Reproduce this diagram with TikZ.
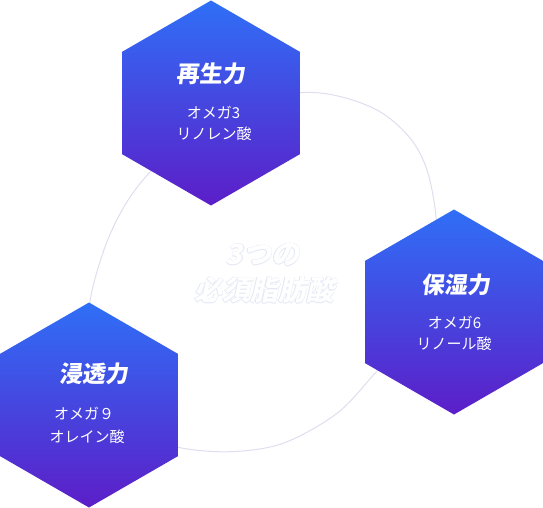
\documentclass[tikz,border=0pt]{standalone}
\usepackage{fontspec}
\usetikzlibrary{shapes.geometric}
\newfontfamily\jp{Noto Sans CJK JP}
\newfontfamily\jpsl{Noto Sans CJK JP}[FakeSlant=0.12]
\newfontfamily\jpcen{Noto Sans CJK JP}[FakeSlant=0.22]
\definecolor{hexTop}{RGB}{47,111,247}
\definecolor{hexBot}{RGB}{92,30,200}
\definecolor{ringcol}{RGB}{222,222,238}
\definecolor{outl}{RGB}{226,229,244}
\newcommand\olText[1]{\leavevmode\rlap{\color{outl}\hspace{0.6pt}#1}\rlap{\color{outl}\hspace{-0.6pt}#1}\rlap{\color{outl}\raisebox{0.6pt}{#1}}\rlap{\color{outl}\raisebox{-0.6pt}{#1}}{\color{white}#1}}
\begin{document}
\begin{tikzpicture}[x=1pt,y=-1pt,
  hexa/.style={regular polygon, regular polygon sides=6, regular polygon rotate=30,
    minimum size=205pt, inner sep=0pt, outer sep=0pt, draw=none,
    top color=hexTop, bottom color=hexBot},
  ttl/.style={text=white, inner sep=0pt, font=\jpsl\bfseries\fontsize{23}{23}\selectfont},
  sub/.style={text=white, inner sep=0pt, font=\jp\fontsize{15}{15}\selectfont},
  cen/.style={inner sep=0pt, font=\jpcen\bfseries\fontsize{28}{28}\selectfont}]
\useasboundingbox (0,0) rectangle (543,508);
% ring behind the hexagons
\draw[ringcol, line width=1pt] plot[smooth cycle, tension=0.55] coordinates {
  (300,92.7) (340,96.5) (380,111.7) (410,138) (427,170) (436,217) (435,265)
  (422,312) (400,347) (375,373.3) (337,413.3) (283,443.3) (230,451.7)
  (178,447.3) (135,432) (104,400) (90,355) (90,301.7) (105,247) (125,205)
  (150,172) (190,133) (240,104)};
% centre text
\node[cen] (c1) at (262.5,255) {\olText{3つの}};
\node[cen] (c2) at (264,290) {\olText{必須脂肪酸}};
% hexagons
\node[hexa] (h1) at (211,103) {};
\node[hexa] (h2) at (454,312) {};
\node[hexa] (h3) at (89,405) {};
% top
\node[ttl] (t1) at (211,74) {再生力};
\node[sub] (s1a) at (213.5,112.5) {オメガ3};
\node[sub] (s1b) at (214,134) {リノレン酸};
% right
\node[ttl] (t2) at (455.5,285) {保湿力};
\node[sub] (s2a) at (454.5,322.5) {オメガ6};
\node[sub] (s2b) at (454,343.5) {リノール酸};
% left
\node[ttl] (t3) at (93.5,374) {浸透力};
\node[sub] (s3a) at (84,414) {オメガ９};
\node[sub] (s3b) at (87,436.5) {オレイン酸};
\end{tikzpicture}
\end{document}
